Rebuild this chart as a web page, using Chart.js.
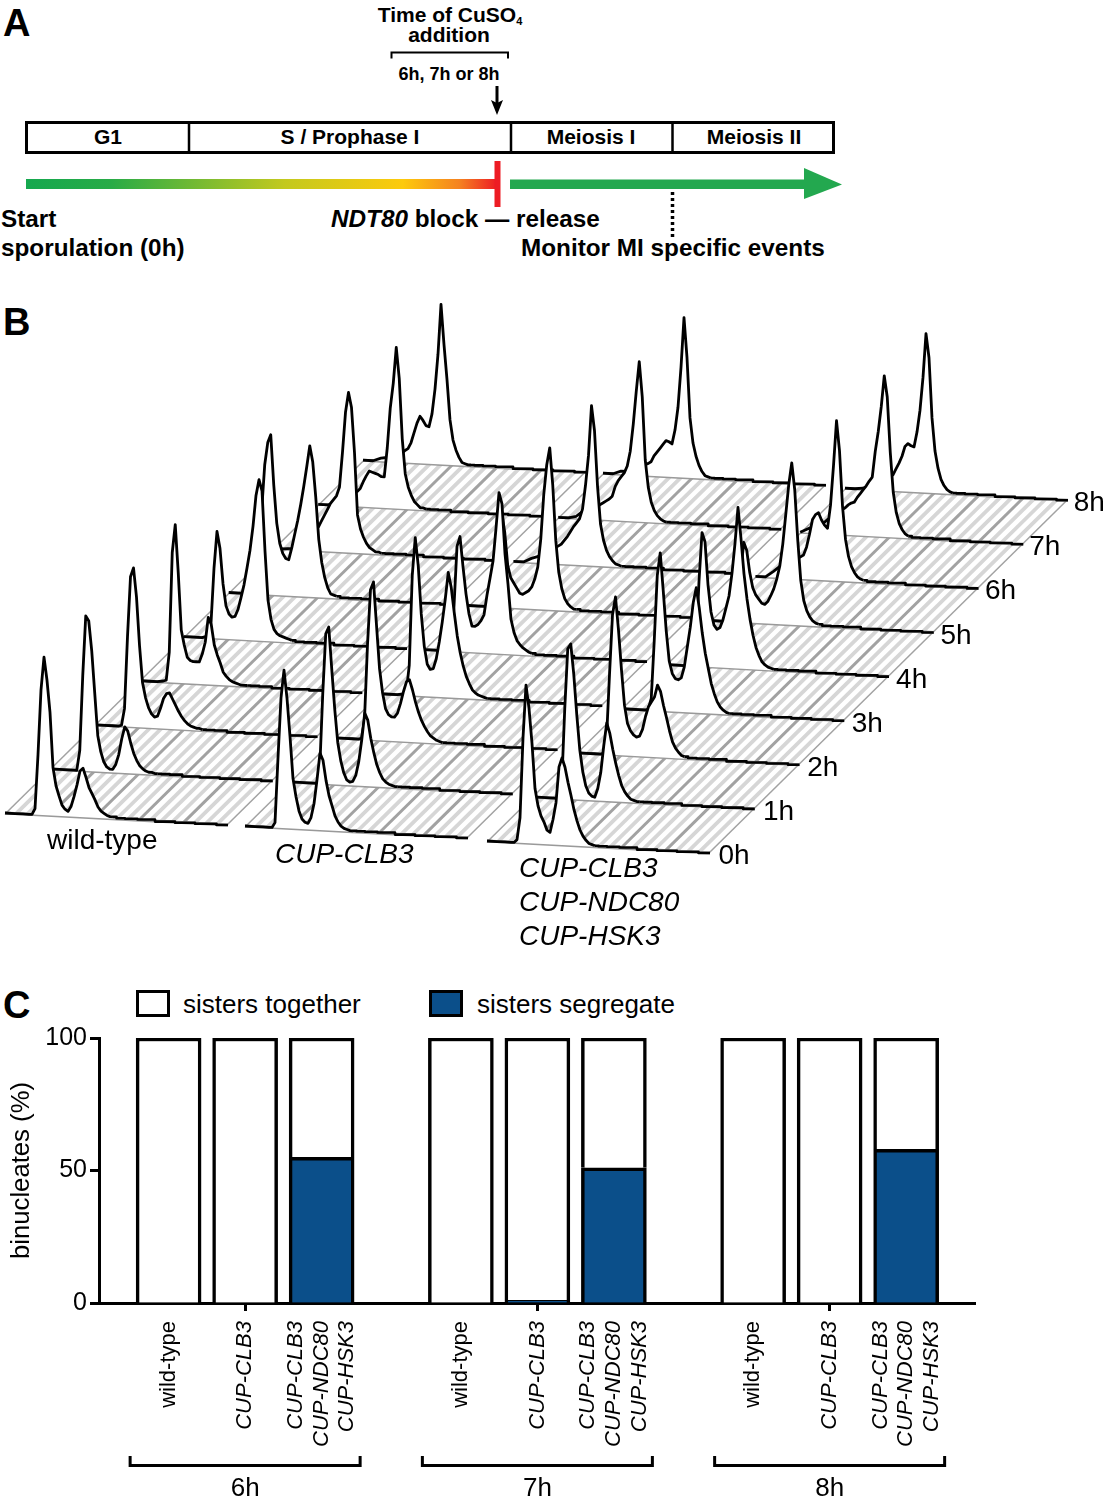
<!DOCTYPE html>
<html>
<head>
<meta charset="utf-8">
<title>CUP-CLB3 figure</title>
<script src="https://cdn.jsdelivr.net/npm/chart.js@4/dist/chart.umd.min.js"></script>
<style>
  html, body { margin: 0; padding: 0; background: #fff; }
  #page { position: relative; width: 1105px; height: 1500px; overflow: hidden;
    font-family: "Liberation Sans", Arial, sans-serif; color: #000; }
  #page canvas, #page svg { position: absolute; }
  .t { position: absolute; white-space: nowrap; line-height: 1; }
  .b { font-weight: bold; }
  .c { transform: translateX(-50%); }
  .panel { font-weight: bold; font-size: 38px; }
  .tl { font-weight: bold; font-size: 21px; }
  .big { font-weight: bold; font-size: 24.300px; }
  .lab { font-size: 28px; }
  .leg { font-size: 26px; }
  .box { position: absolute; box-sizing: border-box; width: 34px; height: 27px; border: 3.500px solid #000; }
  i { font-style: italic; }
  sub { font-size: 11px; vertical-align: -3px; line-height: 0; }
</style>
</head>
<body>
<div id="page">
  <svg width="1105" height="290" style="left:0;top:0">
    <defs>
      <linearGradient id="prog" x1="0" x2="1" y1="0" y2="0">
        <stop offset="0" stop-color="#15a84f"/>
        <stop offset="0.18" stop-color="#28ab47"/>
        <stop offset="0.55" stop-color="#c3c91e"/>
        <stop offset="0.8" stop-color="#fdca0c"/>
        <stop offset="0.92" stop-color="#f58220"/>
        <stop offset="1" stop-color="#ed1c24"/>
      </linearGradient>
    </defs>
    <rect x="26.5" y="122.5" width="807" height="30" fill="#fff" stroke="#000" stroke-width="3"/>
    <path d="M189 122V153M511 122V153M672.500 122V153" stroke="#000" stroke-width="2.500" fill="none"/>
    <rect x="26" y="179" width="471" height="10" fill="url(#prog)"/>
    <rect x="494.500" y="161" width="6" height="46" fill="#ed1c24"/>
    <rect x="510" y="179.500" width="296" height="9.500" fill="#23a84f"/>
    <path d="M804 168L842 184.500L804 199Z" fill="#23a84f"/>
    <path d="M672.500 192V238" stroke="#000" stroke-width="3.500" stroke-dasharray="3 3" fill="none"/>
    <path d="M497 86V106" stroke="#000" stroke-width="3" fill="none"/>
    <path d="M491 100L497 115L503 100L497 103Z" fill="#000"/>
    <path d="M391.500 58.500V52.500H508V58.500" stroke="#000" stroke-width="2" fill="none"/>
  </svg>

  <div class="t panel" style="left:3px;top:4px">A</div>
  <div class="t b c" style="left:450px;top:4px;font-size:21px">Time of CuSO<sub>4</sub></div>
  <div class="t b c" style="left:449px;top:24px;font-size:21px">addition</div>
  <div class="t b c" style="left:449px;top:65px;font-size:18px">6h, 7h or 8h</div>
  <div class="t tl c" style="left:108px;top:126px">G1</div>
  <div class="t tl c" style="left:350px;top:126px">S / Prophase I</div>
  <div class="t tl c" style="left:591px;top:126px">Meiosis I</div>
  <div class="t tl c" style="left:754px;top:126px">Meiosis II</div>
  <div class="t big" style="left:1px;top:207px">Start</div>
  <div class="t big" style="left:1px;top:236px">sporulation (0h)</div>
  <div class="t big" style="left:331px;top:207px"><i>NDT80</i> block — release</div>
  <div class="t big" style="left:521px;top:236px">Monitor MI specific events</div>

  <div class="t panel" style="left:3px;top:303px">B</div>
  <canvas id="ridgeChart" width="1105" height="580" style="left:0;top:290px"></canvas>
  <div class="t lab" style="left:47px;top:826px">wild-type</div>
  <div class="t lab" style="left:275px;top:840px"><i>CUP-CLB3</i></div>
  <div class="t lab" style="left:519px;top:854px"><i>CUP-CLB3</i></div>
  <div class="t lab" style="left:519px;top:888px"><i>CUP-NDC80</i></div>
  <div class="t lab" style="left:519px;top:922px"><i>CUP-HSK3</i></div>
  <div id="hourLabels"></div>

  <div class="t panel" style="left:3px;top:986px">C</div>
  <div class="box" style="left:136px;top:990px;background:#fff"></div>
  <div class="t leg" style="left:183px;top:991px">sisters together</div>
  <div class="box" style="left:429px;top:990px;background:#0b4f8a"></div>
  <div class="t leg" style="left:477px;top:991px">sisters segregate</div>
  <canvas id="barChart" width="1105" height="480" style="left:0;top:1020px"></canvas>
</div>

<script>
// ---- panel B: flow cytometry profiles, one row per hour (0h to 8h) ----
const hours = ['0h', '1h', '2h', '3h', '4h', '5h', '6h', '7h', '8h'];
const channels = [0, 10, 18, 24, 27, 30, 33, 36, 39, 42, 45, 48, 51, 54, 57, 60, 63, 66, 69, 72, 75, 78, 81, 84, 87, 90, 93, 96, 99, 102, 105, 108, 115, 125, 140, 160, 180, 200, 223];

const wildTypeCounts = [
  [0,0,0,0, 0,6,60,125,158,135,103,48,30,20,11,7,5,10,20,32,46,49,40,30,24,18,11,7,5,3,2,2, 1,1,1,0,0,0,0],
  [0,0,0,0, 0,20,95,155,150,120,78,36,20,10,5,3,3,8,18,34,46,42,30,20,13,8,5,3,2,2,1,1, 1,1,0,0,0,0,0],
  [0,0,0,0, 1,18,90,150,159,130,82,45,30,20,14,11,12,20,30,35,36,30,24,18,13,9,6,4,3,2,2,1, 1,1,0,0,0,0,0],
  [0,0,0,1, 2,30,130,158,110,53,38,26,23,22,22,22,30,42,67,60,40,30,22,13,9,6,4,3,2,1,1,1, 1,1,0,0,0,0,0],
  [0,0,0,2, 15,70,107,90,55,33,25,22,23,30,42,55,72,90,114,145,161,150,90,41,22,12,8,6,5,4,3,2, 1,1,1,0,0,0,0],
  [0,0,0,4, 12,40,85,130,152,160,110,72,52,42,37,36,48,62,76,92,110,130,151,135,100,58,35,20,10,4,3,2, 1,1,1,0,0,0,0],
  [0,0,1,4, 8,12,15,18,20,22,24,30,36,42,48,52,56,65,100,140,160,145,100,38,24,16,10,6,4,2,2,1, 1,1,1,0,0,0,0],
  [0,0,3,7, 9,11,12,13,15,18,25,31,36,35,34,33,31,31,60,100,125,161,130,70,35,22,14,8,5,2,2,1, 1,1,0,0,0,0,0],
  [0,0,3,4, 4,5,6,7,9,12,14,20,30,40,47,43,38,37,50,75,110,160,120,85,45,25,15,8,3,2,1,1, 1,1,1,0,0,0,0]
];
const clb3Counts = [
  [0,0,0,0, 0,5,70,130,158,130,92,50,32,18,10,7,6,12,26,50,77,70,50,35,25,15,9,5,3,2,1,1, 1,1,1,0,0,0,0],
  [0,0,0,0, 0,15,90,150,157,115,75,42,24,12,5,3,4,10,24,46,73,66,48,34,22,14,8,5,3,2,1,1, 1,1,1,0,0,0,0],
  [0,0,0,0, 1,20,95,150,158,115,72,48,32,26,24,24,28,38,50,60,62,52,40,30,22,16,11,7,5,3,2,1, 1,1,1,0,0,0,0],
  [0,0,0,1, 3,30,120,158,130,82,50,32,27,28,38,55,75,98,125,110,85,62,45,32,22,15,9,6,4,3,2,1, 1,1,1,0,0,0,0],
  [0,0,0,1, 5,45,105,115,85,58,38,26,26,28,32,38,58,75,92,125,161,150,100,70,35,22,14,10,7,5,3,2, 1,1,1,0,0,0,0],
  [0,0,0,2, 20,60,95,75,42,30,25,20,15,14,16,18,22,30,42,70,115,145,162,125,70,38,22,12,7,4,2,2, 1,1,1,0,0,0,0],
  [0,0,4,6, 8,10,12,14,15,16,18,20,24,28,33,38,42,46,56,80,110,160,135,80,42,26,16,10,6,3,2,1, 1,1,1,0,0,0,0],
  [0,0,2,7, 8,9,10,12,13,15,17,19,21,24,34,40,44,48,55,70,97,130,160,125,62,35,20,12,7,4,2,1, 1,1,1,0,0,0,0],
  [0,0,3,3, 5,6,7,8,9,11,12,14,20,24,28,32,36,35,33,47,70,110,160,120,60,35,22,13,7,3,2,1, 1,1,1,0,0,0,0]
];
const tripleCounts = [
  [0,0,0,0, 0,3,25,105,158,135,100,55,38,28,22,14,12,25,42,78,87,78,63,50,36,25,16,10,6,3,2,1, 1,1,1,0,0,0,0],
  [0,0,0,0, 0,15,90,150,155,125,85,50,28,14,7,4,3,12,28,55,78,68,52,38,26,16,10,6,3,2,1,1, 1,1,1,0,0,0,0],
  [0,0,0,0, 1,15,80,140,158,125,85,50,32,25,21,19,20,27,40,50,55,60,72,66,52,40,27,16,10,6,3,2, 1,1,1,0,0,0,0],
  [0,0,0,0, 1,12,70,135,158,120,80,50,38,33,32,34,45,65,85,110,125,105,80,60,45,30,20,12,7,4,2,1, 1,1,1,0,0,0,0],
  [0,0,0,1, 3,20,85,134,125,82,55,42,38,40,48,60,72,95,125,161,130,95,70,50,34,22,14,8,5,3,2,1, 1,1,1,0,0,0,0],
  [0,0,0,2, 12,50,80,72,50,35,28,24,20,19,22,28,35,45,58,80,110,140,162,135,85,45,25,15,9,5,3,2, 1,1,1,0,0,0,0],
  [0,0,6,11, 12,14,16,18,19,20,22,24,32,45,60,65,67,60,55,52,75,115,160,130,75,42,25,15,9,5,3,2, 1,1,1,0,0,0,0],
  [0,5,8,11, 14,16,18,20,22,25,27,30,32,33,38,42,46,50,55,59,85,105,130,161,140,85,45,25,14,8,4,2, 1,1,1,0,0,0,0],
  [0,0,1,4, 6,8,10,12,13,14,15,16,22,28,35,45,48,46,45,60,82,115,159,135,75,42,25,14,8,4,2,1, 1,1,1,0,0,0,0]
];

// ---- panel C: binucleates (%) ----
const barLabels = [
  'wild-type', 'CUP-CLB3', ['CUP-CLB3', 'CUP-NDC80', 'CUP-HSK3'],
  'wild-type', 'CUP-CLB3', ['CUP-CLB3', 'CUP-NDC80', 'CUP-HSK3'],
  'wild-type', 'CUP-CLB3', ['CUP-CLB3', 'CUP-NDC80', 'CUP-HSK3']
];
const additionTimes = ['6h', '7h', '8h'];
const sistersSegregate = [0, 0, 55, 0, 1, 51, 0, 0, 58];
const sistersTogether = [100, 100, 45, 100, 99, 49, 100, 100, 42];

// geometry of the oblique stack in panel B
const rowStep = { x: 44.75, y: -44.1 };
const baseDrop = 12 / 223;
const lastChannel = channels[channels.length - 1];
const tailFrom = channels.indexOf(108);
const strainRows = [
  { counts: wildTypeCounts, x: 5, y: 813 },
  { counts: clb3Counts, x: 245, y: 826 },
  { counts: tripleCounts, x: 487, y: 841 }
];

// index 0 is drawn last, so front rows and right hand strains come first
const ridgeDatasets = [];
for (let s = strainRows.length - 1; s >= 0; s--) {
  const strain = strainRows[s];
  strain.counts.forEach((row, h) => {
    const ox = strain.x + h * rowStep.x;
    const oy = strain.y + h * rowStep.y;
    const points = row.map((v, i) => ({ x: ox + channels[i], y: oy + channels[i] * baseDrop - v }));
    // tail of the profile, stepped like the binned original
    ridgeDatasets.push({
      data: points.slice(tailFrom),
      borderColor: '#000',
      borderWidth: 2.6,
      fill: false,
      stepped: 'middle',
      pointRadius: 0
    });
    // the peaks, white down to the floor line
    ridgeDatasets.push({
      data: points.slice(0, tailFrom + 1),
      borderColor: '#000',
      borderWidth: 2.8,
      backgroundColor: '#fff',
      fill: '+1',
      pointRadius: 0
    });
    ridgeDatasets.push({
      data: [{ x: ox, y: oy }, { x: ox + lastChannel, y: oy + lastChannel * baseDrop }],
      borderColor: '#9a9a9a',
      borderWidth: 3,
      fill: false,
      pointRadius: 0
    });
  });
}

// hatched floor under each strain
const hatchFloors = {
  id: 'hatchFloors',
  beforeDatasetsDraw(chart) {
    const { ctx, scales: { x, y } } = chart;
    const depthX = rowStep.x * (hours.length - 1);
    const depthY = rowStep.y * (hours.length - 1);
    strainRows.forEach(strain => {
      const px = (dx, dy) => [x.getPixelForValue(strain.x + dx), y.getPixelForValue(strain.y + dy)];
      ctx.save();
      ctx.beginPath();
      ctx.moveTo(...px(0, 0));
      ctx.lineTo(...px(lastChannel, lastChannel * baseDrop));
      ctx.lineTo(...px(lastChannel + depthX, lastChannel * baseDrop + depthY));
      ctx.lineTo(...px(depthX, depthY));
      ctx.closePath();
      ctx.clip();
      const stripes = 20;
      for (let k = 0; k <= stripes; k++) {
        const c = lastChannel * k / stripes;
        const dark = k % 4 === 0;
        ctx.strokeStyle = dark ? '#a2a2a2' : '#d6d6d6';
        ctx.lineWidth = dark ? 3 : 3.8;
        ctx.beginPath();
        ctx.moveTo(...px(c, c * baseDrop));
        ctx.lineTo(...px(c + depthX, c * baseDrop + depthY));
        ctx.stroke();
      }
      ctx.restore();
    });
  }
};

new Chart(document.getElementById('ridgeChart'), {
  type: 'scatter',
  data: { datasets: ridgeDatasets },
  options: {
    responsive: false,
    animation: false,
    showLine: true,
    layout: { padding: 0 },
    plugins: { legend: { display: false }, tooltip: { enabled: false } },
    elements: { line: { tension: 0, borderJoinStyle: 'round' } },
    scales: {
      x: { type: 'linear', display: false, min: 0, max: 1105 },
      y: { type: 'linear', display: false, min: 290, max: 870, reverse: true }
    }
  },
  plugins: [hatchFloors]
});

// hour labels sit just past the end of the 3rd strain's rows
const hourBox = document.getElementById('hourLabels');
hours.forEach((label, h) => {
  const el = document.createElement('div');
  el.className = 't lab';
  el.textContent = label;
  el.style.left = (718.5 + h * 44.4) + 'px';
  el.style.top = (841 + h * rowStep.y) + 'px';
  hourBox.appendChild(el);
});

// bars sit on a linear axis because the gaps between the groups are not whole slots
const firstSlot = 0.91;
const groupStep = 3.82;
const lineGap = 0.335;
const barSlots = barLabels.map((_, i) => firstSlot + Math.floor(i / 3) * groupStep + (i % 3));

// every text line gets its own tick, so stacked names stay centred under the bar
const labelTicks = [];
barLabels.forEach((label, i) => {
  const lines = [].concat(label);
  lines.forEach((text, n) => {
    labelTicks.push({
      value: barSlots[i] + (n - (lines.length - 1) / 2) * lineGap,
      text,
      mark: i % 3 === 1
    });
  });
});

// brackets and time labels under the groups
const timeBrackets = {
  id: 'timeBrackets',
  afterDraw(chart) {
    const { ctx, scales: { x } } = chart;
    additionTimes.forEach((label, g) => {
      const centre = x.getPixelForValue(barSlots[g * 3 + 1]);
      ctx.save();
      ctx.strokeStyle = '#000';
      ctx.lineWidth = 3;
      ctx.beginPath();
      ctx.moveTo(centre - 115, 436);
      ctx.lineTo(centre - 115, 445.5);
      ctx.lineTo(centre + 115, 445.5);
      ctx.lineTo(centre + 115, 436);
      ctx.stroke();
      ctx.fillStyle = '#000';
      ctx.font = '26px "Liberation Sans"';
      ctx.textAlign = 'center';
      ctx.textBaseline = 'middle';
      ctx.fillText(label, centre, 469);
      ctx.restore();
    });
  }
};

new Chart(document.getElementById('barChart'), {
  type: 'bar',
  data: {
    datasets: [
      {
        label: 'sisters segregate',
        data: sistersSegregate.map((v, i) => ({ x: barSlots[i], y: v })),
        backgroundColor: '#0b4f8a',
        borderColor: '#000',
        borderWidth: 3.5,
        barThickness: 65
      },
      {
        label: 'sisters together',
        data: sistersTogether.map((v, i) => ({ x: barSlots[i], y: v })),
        backgroundColor: '#fff',
        borderColor: '#000',
        borderWidth: 3.5,
        barThickness: 65
      }
    ]
  },
  options: {
    responsive: false,
    animation: false,
    layout: { padding: { top: 17, right: 130, left: 0, bottom: 0 } },
    plugins: { legend: { display: false }, tooltip: { enabled: false } },
    scales: {
      x: {
        type: 'linear',
        stacked: true,
        offset: false,
        min: 0,
        max: 11.45,
        afterBuildTicks(scale) { scale.ticks = labelTicks.map(t => ({ ...t })); },
        afterFit(scale) { scale.height = 197; },
        border: { color: '#000', width: 3 },
        grid: {
          offset: false,
          drawOnChartArea: false,
          tickLength: 8,
          tickWidth: 3,
          // only the middle bar of a group gets a tick mark
          tickColor: ctx => (ctx.tick && ctx.tick.mark ? '#000' : 'rgba(0,0,0,0)')
        },
        ticks: {
          autoSkip: false,
          minRotation: 90,
          maxRotation: 90,
          padding: 10,
          color: '#000',
          callback: (value, index, ticks) => ticks[index].text,
          font: ctx => ({
            family: 'Liberation Sans',
            size: 22,
            style: ctx.tick && ctx.tick.text === 'wild-type' ? 'normal' : 'italic'
          })
        }
      },
      y: {
        stacked: true,
        min: 0,
        max: 100,
        afterFit(scale) { scale.width = 99; },
        border: { color: '#000', width: 3 },
        grid: { drawOnChartArea: false, tickLength: 9, tickWidth: 3, tickColor: '#000' },
        title: {
          display: true,
          text: 'binucleates (%)',
          color: '#000',
          font: { family: 'Liberation Sans', size: 25.700 },
          padding: { top: 6, bottom: 0 }
        },
        ticks: {
          stepSize: 50,
          padding: 3,
          color: '#000',
          font: { family: 'Liberation Sans', size: 25 }
        }
      }
    }
  },
  plugins: [timeBrackets]
});
</script>
</body>
</html>
